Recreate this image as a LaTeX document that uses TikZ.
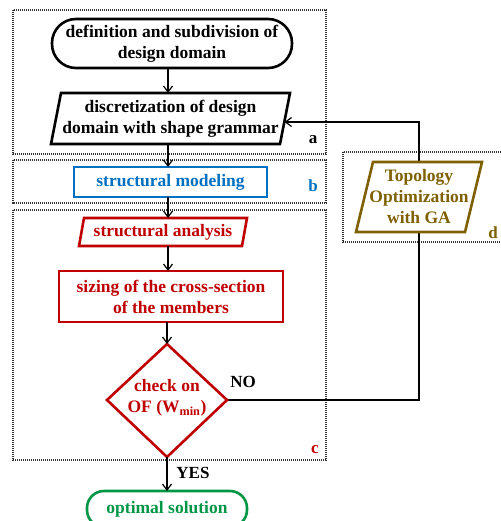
\documentclass[tikz,border=0pt]{standalone}
\usepackage{fontspec}
\setmainfont{Liberation Serif}
\usetikzlibrary{arrows.meta}
\definecolor{cblue}{RGB}{0,112,192}
\definecolor{cred}{RGB}{192,0,0}
\definecolor{cgreen}{RGB}{0,150,70}
\definecolor{cbrown}{RGB}{127,96,0}
\definecolor{cdot}{RGB}{50,50,50}
\begin{document}
\begin{tikzpicture}[x=1pt,y=-1pt,
  txt/.style={font=\bfseries\fontsize{17.5}{21}\selectfont, align=center, inner sep=0pt},
  shapeline/.style={line width=2.6pt, line join=miter},
  conn/.style={line width=1.3pt, -{Straight Barb[length=6pt,width=9pt,line width=1.2pt]}},
  connline/.style={line width=1.3pt},
  group/.style={draw=cdot, line width=1.7pt, dash pattern=on 1.2pt off 0.8pt},
  lbl/.style={font=\bfseries\fontsize{17}{20}\selectfont, inner sep=0pt}]
\useasboundingbox (0,0) rectangle (500,521);

% group frames
\draw[group] (13,10) rectangle (326,154);
\draw[group] (13,160) rectangle (326,203);
\draw[group] (13,210) rectangle (326,460);
\draw[group] (343,152) rectangle (520,242);

% named anchor points
\coordinate (n1b) at (168,68);
\coordinate (n2t) at (168,93);
\coordinate (n2b) at (168,144);
\coordinate (n2r) at (284.5,122);
\coordinate (n3t) at (168,167);
\coordinate (n3b) at (168,197);
\coordinate (n4t) at (168,218);
\coordinate (n4b) at (168,246);
\coordinate (n5t) at (168,271);
\coordinate (n5b) at (167,322);
\coordinate (n6t) at (167,344);
\coordinate (n6b) at (167,457);
\coordinate (n6r) at (227,400);
\coordinate (n7t) at (167,491);
\coordinate (loopc) at (419,400);
\coordinate (loopt) at (419,122);

% feedback loop (behind topology box)
\draw[connline, -{Straight Barb[length=6pt,width=9pt,line width=1.2pt]}] (n6r) -- (loopc) -- (loopt) -- (n2r);

% start
\node[txt, draw, shapeline, fill=white, rounded corners=24pt, minimum width=240pt, minimum height=49pt] (n1) at (172,43.5) {definition and subdivision of\\design domain};

% discretization parallelogram
\draw[shapeline, fill=white] (61,93) -- (290,93) -- (280,144) -- (51,144) -- cycle;
\node[txt] (n2) at (170.5,118.5) {discretization of design\\domain with shape grammar};

% structural modeling
\node[txt, draw=cblue, text=cblue, shapeline, fill=white, minimum width=193pt, minimum height=30pt] (n3) at (170.5,182) {structural modeling};

% structural analysis
\draw[shapeline, draw=cred, fill=white] (84,218) -- (247,218) -- (242,246) -- (79,246) -- cycle;
\node[txt, text=cred] (n4) at (163,232) {structural analysis};

% sizing
\node[txt, draw=cred, text=cred, shapeline, fill=white, minimum width=224pt, minimum height=51pt] (n5) at (171,296.5) {sizing of the cross-section\\of the members};

% check diamond
\draw[shapeline, draw=cred, fill=white] (167,344) -- (227,400) -- (167,457) -- (107,400) -- cycle;
\node[txt, text=cred] (n6) at (167,398) {check on\\OF (W\textsubscript{min})};

% optimal solution
\node[txt, draw=cgreen, text=cgreen, shapeline, fill=white, rounded corners=17pt, minimum width=160pt, minimum height=36pt] (n7) at (167,509) {optimal solution};

% topology optimization
\draw[shapeline, draw=cbrown, fill=white] (373,162) -- (482,162) -- (465,232) -- (356,232) -- cycle;
\node[txt, text=cbrown] (n8) at (419,197) {Topology\\Optimization\\with GA};

% connectors
\draw[conn] (n1b) -- (n2t);
\draw[conn] (n2b) -- (n3t);
\draw[conn] (n3b) -- (n4t);
\draw[conn] (n4b) -- (n5t);
\draw[conn] (n5b) -- (n6t);
\draw[conn] (n6b) -- (n7t);

% labels
\node[lbl] (la) at (313,140) {a};
\node[lbl, text=cblue] (lb) at (313,186) {b};
\node[lbl, text=cred] (lc) at (315,450) {c};
\node[lbl, text=cbrown] (ld) at (493,233) {d};
\node[lbl] (lno) at (243,382) {NO};
\node[lbl] (lyes) at (193,473) {YES};
\end{tikzpicture}
\end{document}
